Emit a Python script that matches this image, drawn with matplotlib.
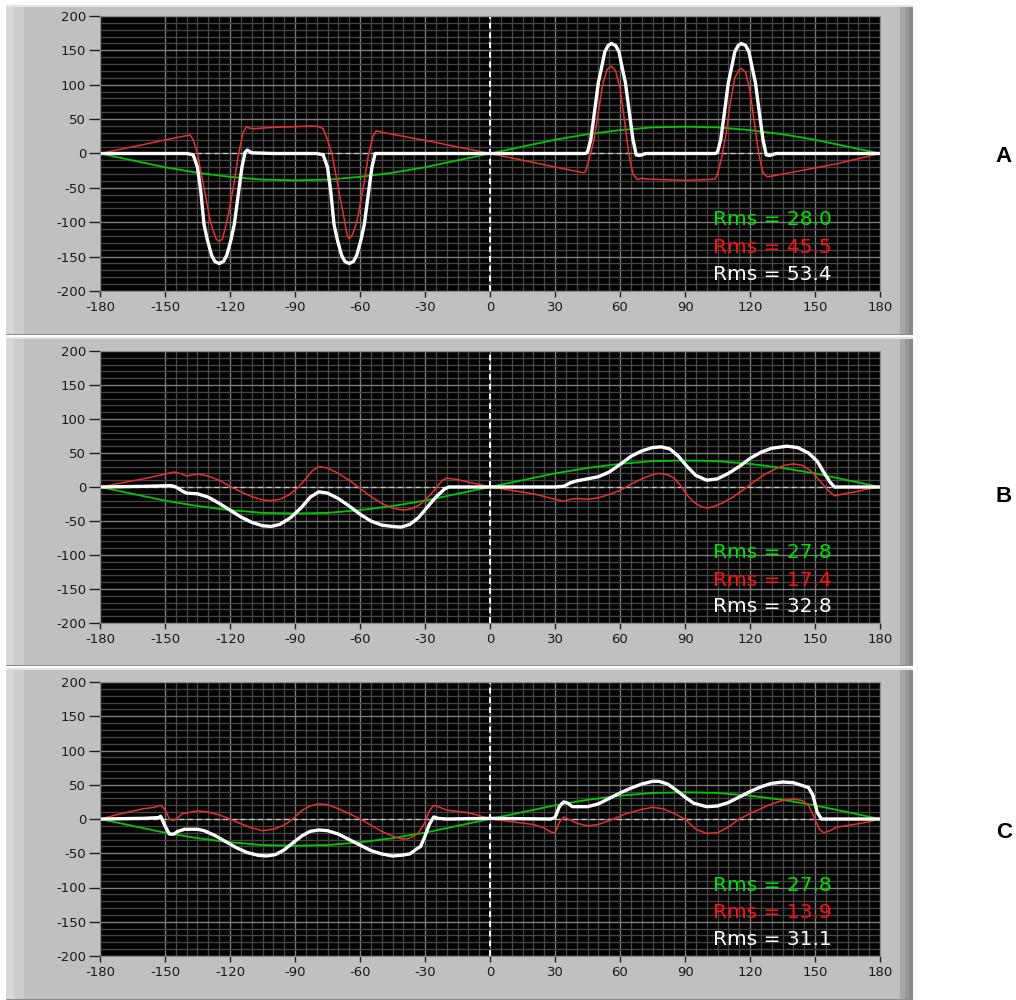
import numpy as np
import matplotlib
matplotlib.use("Agg")
import matplotlib.pyplot as plt
from matplotlib.patches import Rectangle
from matplotlib.ticker import MultipleLocator, FixedLocator

plt.rcParams["axes.unicode_minus"] = False

# green reference curve (same in all three panels)
green_x = [-180, -165, -150, -135, -120, -105, -90, -75, -60, -45, -30, -15, 0,
           15, 30, 45, 60, 75, 90, 105, 120, 135, 150, 165, 180]
green_y = [0, -10, -20, -28, -34, -38, -39, -38, -34, -28, -20, -10, 0,
           10, 20, 28, 34, 38, 39, 38, 34, 28, 20, 10, 0]

# panel A
a_red = [(-180, 0), (-160, 13), (-145, 23), (-140, 26), (-138.5, 27), (-137, 20), (-135, 0),
         (-132, -50), (-129, -100), (-126.5, -124), (-125, -128), (-123.5, -124), (-121.5, -100),
         (-118.5, -50), (-116, 0), (-114, 30), (-112.5, 39), (-111, 37), (-109, 36), (-105, 37),
         (-100, 38), (-90, 39), (-82, 40), (-79, 39), (-77, 36), (-75, 20), (-73, 0), (-70, -50),
         (-67, -100), (-66, -118), (-65, -124), (-63.5, -118), (-61.5, -100), (-58.5, -50),
         (-56, 0), (-54, 25), (-52.5, 33), (-50, 31), (-25, 16), (0, 0), (20, -13), (40, -26),
         (43, -28), (44, -27), (46, -5), (48, 20), (50, 60), (52, 100), (54, 122), (56, 127),
         (58, 120), (60, 95), (62, 50), (64, 0), (66, -30), (68, -38), (70, -36), (72, -37),
         (80, -38), (90, -39), (100, -38), (104, -37), (105, -30), (107, -5), (109, 30),
         (111, 75), (113, 110), (115, 122), (116, 124), (118, 118), (120, 90), (122, 45),
         (124, 0), (126, -28), (128, -34), (140, -27), (160, -15), (180, 0)]
a_white = [(-180, 0), (-140, 0), (-137, -2), (-135, -20), (-133.5, -55), (-132, -103),
           (-130.5, -125), (-128.5, -148), (-127, -157), (-125, -160), (-123, -157),
           (-121.5, -148), (-119.5, -125), (-118, -103), (-116, -55), (-114.5, -20), (-113, 2),
           (-112, 5), (-110, 1), (-100, 0), (-80, 0), (-77, -2), (-75, -20), (-73.5, -55),
           (-72, -103), (-70.5, -125), (-68.5, -148), (-67, -157), (-65, -160), (-63, -157),
           (-61.5, -148), (-59.5, -125), (-58, -103), (-56, -55), (-54.5, -20), (-53, 0), (0, 0),
           (44, 0), (45, 2), (46.5, 20), (48, 55), (50, 103), (51.5, 125), (53, 148),
           (54.5, 157), (56, 160), (58, 157), (59.5, 148), (61, 125), (62.5, 103), (64.5, 55),
           (66, 20), (67.5, -2), (69, -3), (72, 0), (104, 0), (105, 2), (106.5, 20), (108, 55),
           (110, 103), (111.5, 125), (113, 148), (114.5, 157), (116, 160), (118, 157),
           (119.5, 148), (121, 125), (122.5, 103), (124.5, 55), (126, 20), (127.5, -2),
           (129, -3), (132, 0), (180, 0)]

# panel B
b_red = [(-180, 0), (-170, 6), (-160, 12), (-150, 19), (-146, 22), (-143, 20), (-140, 16),
         (-137, 18), (-134, 19), (-130, 16), (-125, 10), (-120, 1), (-115, -7), (-110, -14),
         (-105, -19), (-101, -20), (-97, -18), (-93, -12), (-89, -2), (-85, 12), (-82, 24),
         (-79, 30), (-75, 28), (-70, 20), (-65, 10), (-60, -2), (-55, -14), (-50, -24),
         (-45, -31), (-40, -34), (-36, -32), (-32, -25), (-28, -13), (-25, -2), (-22, 10),
         (-20, 13), (-15, 11), (-10, 7), (-5, 4), (0, 0), (10, -5), (20, -10), (25, -14),
         (30, -18), (34, -21), (37, -18), (40, -17), (45, -18), (50, -16), (55, -11), (60, -5),
         (65, 4), (70, 12), (75, 18), (78, 20), (82, 18), (85, 13), (88, 2), (91, -12),
         (94, -22), (97, -28), (100, -31), (103, -29), (107, -24), (112, -15), (117, -4),
         (122, 8), (127, 19), (132, 27), (136, 32), (140, 34), (144, 32), (148, 24),
         (152, 10), (156, -5), (159, -13), (162, -11), (167, -8), (173, -4), (180, 0)]
b_white = [(-180, 0), (-160, 1), (-147, 2), (-145, 0), (-142, -6), (-140, -9), (-135, -10),
           (-130, -15), (-125, -24), (-120, -34), (-115, -44), (-110, -52), (-105, -57),
           (-101, -58), (-97, -55), (-92, -45), (-87, -30), (-83, -15), (-79, -7), (-75, -9),
           (-70, -17), (-65, -28), (-60, -40), (-55, -50), (-50, -56), (-45, -58), (-41, -59),
           (-37, -55), (-33, -45), (-29, -30), (-25, -15), (-21, -3), (-19, 0), (0, 0), (30, 0),
           (34, 1), (37, 6), (40, 9), (45, 12), (50, 15), (55, 22), (60, 33), (65, 45),
           (70, 53), (75, 58), (79, 59), (83, 56), (87, 45), (91, 30), (95, 17), (100, 10),
           (105, 12), (110, 20), (115, 30), (120, 42), (125, 51), (130, 57), (137, 60),
           (142, 58), (147, 50), (151, 38), (154, 22), (157, 7), (159, 0), (180, 0)]

# panel C
c_red = [(-180, 0), (-170, 8), (-160, 15), (-155, 17), (-152, 20), (-150, 14), (-148, 0),
         (-146, -2), (-144, 2), (-142, 8), (-138, 10), (-135, 12), (-130, 10), (-125, 6),
         (-120, 0), (-115, -7), (-110, -13), (-105, -17), (-100, -15), (-95, -9), (-91, 0),
         (-87, 12), (-83, 19), (-79, 22), (-75, 21), (-70, 15), (-65, 8), (-60, 0), (-55, -9),
         (-50, -18), (-45, -25), (-41, -29), (-38, -29), (-35, -25), (-33, -20), (-30, -5),
         (-28, 12), (-26, 20), (-24, 18), (-20, 13), (-10, 9), (-5, 5), (0, 0), (10, -4),
         (20, -8), (25, -13), (28, -19), (30, -20), (32, -5), (34, 3), (36, 0), (40, -6),
         (45, -10), (50, -8), (57, 0), (63, 8), (70, 14), (75, 17), (80, 15), (85, 8), (90, 0),
         (95, -15), (100, -21), (105, -20), (110, -12), (115, 0), (120, 8), (125, 15),
         (130, 22), (135, 27), (140, 29), (144, 27), (147, 20), (150, 0), (152, -15),
         (154, -20), (157, -17), (160, -12), (168, -8), (175, -4), (180, 0)]
c_white = [(-180, 0), (-160, 1), (-153, 2), (-152, 4), (-150, -10), (-148, -22), (-146, -22),
           (-144, -18), (-141, -15), (-135, -15), (-132, -17), (-127, -24), (-122, -33),
           (-117, -42), (-112, -49), (-107, -53), (-103, -54), (-99, -52), (-95, -45),
           (-91, -35), (-87, -25), (-83, -18), (-79, -16), (-75, -17), (-70, -22), (-65, -30),
           (-60, -38), (-55, -46), (-50, -51), (-45, -54), (-41, -53), (-37, -51), (-34, -44),
           (-32, -40), (-30, -25), (-28, -8), (-26, 3), (-24, 1), (-20, 0), (0, 1), (28, 0),
           (30, 2), (32, 18), (34, 25), (36, 23), (38, 18), (45, 18), (50, 22), (55, 30),
           (60, 38), (65, 45), (70, 51), (75, 55), (78, 55), (82, 51), (86, 42), (90, 32),
           (94, 23), (100, 18), (105, 19), (110, 24), (115, 32), (120, 40), (125, 47),
           (130, 52), (135, 54), (140, 53), (144, 49), (147, 46), (149, 35), (151, 10),
           (153, 0), (180, 0)]

rms_a = ["28.0", "45.5", "53.4"]
rms_b = ["27.8", "17.4", "32.8"]
rms_c = ["27.8", "13.9", "31.1"]
letters = ["A", "B", "C"]

W, H = 1016, 1000
fig = plt.figure(figsize=(W / 100, H / 100), dpi=100)
fig.patch.set_facecolor("white")


def px_rect(x0, y0, x1, y1, color):
    fig.patches.append(Rectangle((x0 / W, 1 - y1 / H), (x1 - x0) / W, (y1 - y0) / H,
                                 transform=fig.transFigure, facecolor=color,
                                 edgecolor="none", zorder=-10))


def panel(top, bot, gtop, gbot, red, white, rms, letter, letter_y):
    # gray frame around each graph
    px_rect(6, gtop, 913, gbot, "#c0c0c0")
    px_rect(6, gtop, 14, gbot, "#d8d8d8")
    px_rect(14, gtop, 24, gbot, "#cccccc")
    px_rect(900, gtop, 905, gbot, "#a8a8a8")
    px_rect(905, gtop, 909, gbot, "#989898")
    px_rect(909, gtop, 913, gbot, "#8a8a8a")
    px_rect(6, gtop, 913, gtop + 1.5, "#e4e4e4")
    px_rect(6, gbot - 1.5, 913, gbot, "#8c8c8c")

    ax = fig.add_axes([100 / W, 1 - bot / H, 780 / W, (bot - top) / H])
    ax.set_facecolor("black")
    ax.set_xlim(-180, 180)
    ax.set_ylim(-200, 200)
    ax.xaxis.set_major_locator(MultipleLocator(30))
    ax.yaxis.set_major_locator(MultipleLocator(50))
    ax.xaxis.set_minor_locator(FixedLocator(np.arange(-145, 180, 5)))
    ax.yaxis.set_minor_locator(MultipleLocator(10))
    ax.grid(which="minor", color="#444444", lw=1.0)
    ax.grid(which="major", color="#7c7c7c", lw=1.0)
    ax.tick_params(which="minor", length=0)
    ax.tick_params(axis="y", which="major", length=8, width=1, color="#202020",
                   labelsize=9.5, labelcolor="#1a1a1a", pad=2)
    ax.tick_params(axis="x", which="major", length=4, width=1, color="#202020",
                   labelsize=9.5, labelcolor="#1a1a1a", pad=3)
    for s in ax.spines.values():
        s.set_color("#8a8a8a")

    ax.axhline(0, color="#c8c8c8", lw=0.9, ls=(0, (4, 3)), zorder=1.8)
    ax.axvline(0, color="white", lw=1.4, ls=(0, (3, 2)), zorder=1.8)

    ax.plot(green_x, green_y, color="#00c800", lw=1.3)
    rx, ry = zip(*red)
    ax.plot(rx, ry, color="#e8302c", lw=1.1)
    wx, wy = zip(*white)
    ax.plot(wx, wy, color="white", lw=2.4, solid_joinstyle="round")

    colors = ["#00e000", "#ff1010", "white"]
    ys = [0.259, 0.157, 0.060]
    for val, c, yy in zip(rms, colors, ys):
        ax.text(0.786, yy, "Rms = " + val, color=c, fontsize=14.5,
                transform=ax.transAxes, ha="left", va="center")

    fig.text(1004 / W, 1 - letter_y / H, letter, fontsize=16, fontweight="bold",
             family="Liberation Sans", ha="center", va="center", color="black")
    return ax


panel(16, 291, 5, 335, a_red, a_white, rms_a, letters[0], 157)
panel(351, 623, 337, 666, b_red, b_white, rms_b, letters[1], 497)
panel(682, 956, 668, 1000, c_red, c_white, rms_c, letters[2], 832)

fig.savefig("out.png", dpi=100, facecolor=fig.get_facecolor())
